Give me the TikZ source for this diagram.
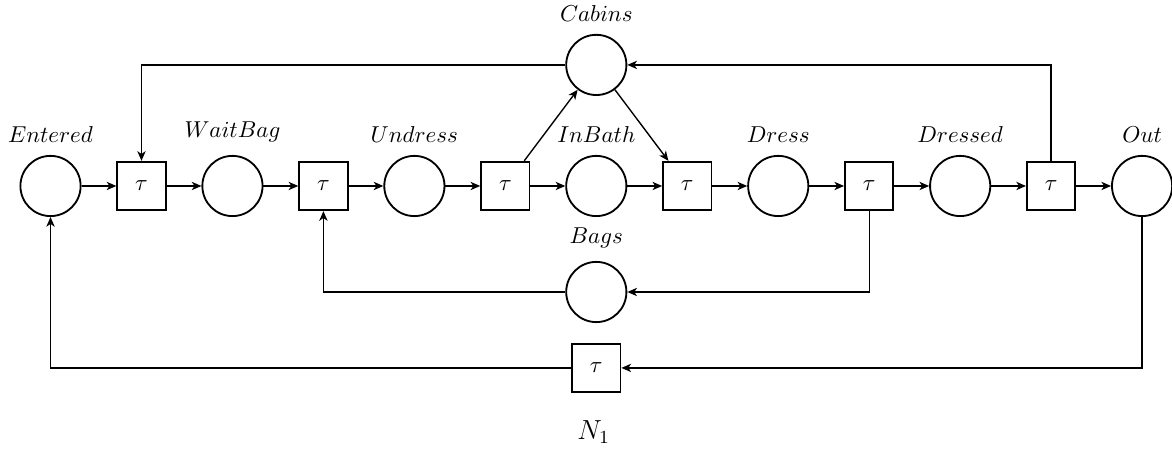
\documentclass[tikz,border=0pt]{standalone}
\usetikzlibrary{arrows.meta}
\begin{document}
\begin{tikzpicture}[>={Stealth[length=4.2pt, width=3.6pt, inset=1.2pt]}, label distance=2pt,
  place/.style={draw, thick, circle, minimum size=0.92cm, inner sep=0pt},
  trans/.style={draw, thick, rectangle, minimum size=0.74cm, inner sep=0pt},
  arc/.style={->, semithick}]
\useasboundingbox (-0.772,-4.034) rectangle (17.137,2.842);
\node[place, label=above:$Entered$] (entered) at (0,0) {};
\node[trans] (t1) at (1.39,0) {$\tau$};
\node[place, label=above:$WaitBag$] (waitbag) at (2.78,0) {};
\node[trans] (t2) at (4.17,0) {$\tau$};
\node[place, label=above:$Undress$] (undress) at (5.56,0) {};
\node[trans] (t3) at (6.95,0) {$\tau$};
\node[place, label=above:$InBath$] (inbath) at (8.34,0) {};
\node[trans] (t4) at (9.73,0) {$\tau$};
\node[place, label=above:$Dress$] (dress) at (11.12,0) {};
\node[trans] (t5) at (12.51,0) {$\tau$};
\node[place, label=above:$Dressed$] (dressed) at (13.9,0) {};
\node[trans] (t6) at (15.29,0) {$\tau$};
\node[place, label=above:$Out$] (out) at (16.68,0) {};
\node[place, label=above:$Cabins$] (cabins) at (8.34,1.85) {};
\node[place, label=above:$Bags$] (bags) at (8.34,-1.62) {};
\node[trans] (tback) at (8.34,-2.78) {$\tau$};
\node (name) at (8.3,-3.76) {\large $N_1$};
\draw[arc] (entered) -- (t1);
\draw[arc] (t1) -- (waitbag);
\draw[arc] (waitbag) -- (t2);
\draw[arc] (t2) -- (undress);
\draw[arc] (undress) -- (t3);
\draw[arc] (t3) -- (inbath);
\draw[arc] (inbath) -- (t4);
\draw[arc] (t4) -- (dress);
\draw[arc] (dress) -- (t5);
\draw[arc] (t5) -- (dressed);
\draw[arc] (dressed) -- (t6);
\draw[arc] (t6) -- (out);
\draw[arc] (t3) -- (cabins);
\draw[arc] (cabins) -- (t4);
\draw[arc] (t6) |- (cabins);
\draw[arc] (cabins) -| (t1);
\draw[arc] (t5) |- (bags);
\draw[arc] (bags) -| (t2);
\draw[arc] (out) |- (tback);
\draw[arc] (tback) -| (entered);
\end{tikzpicture}
\end{document}
